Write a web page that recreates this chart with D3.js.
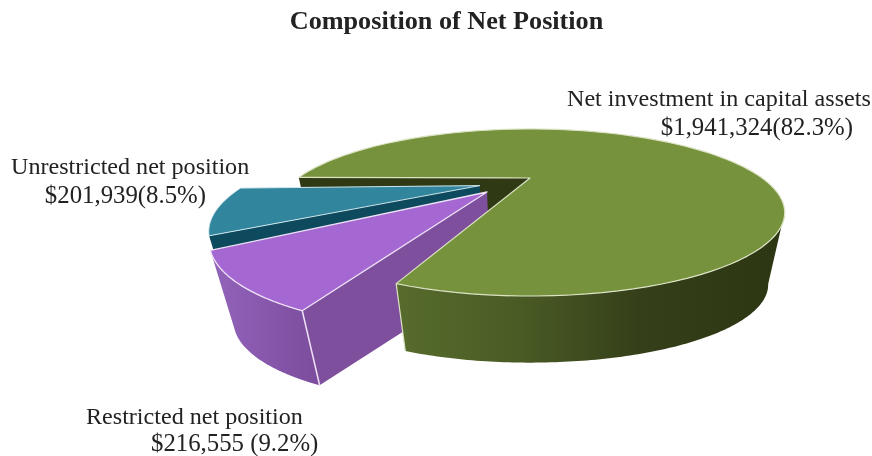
<!DOCTYPE html>
<html>
<head>
<meta charset="utf-8">
<script src="https://cdn.jsdelivr.net/npm/d3@7/dist/d3.min.js"></script>
<style>
html,body{margin:0;padding:0;background:#fff;overflow:hidden}
svg{display:block;filter:blur(0.4px)}
text{font-family:"Liberation Serif","Times New Roman",serif;fill:#222}
</style>
</head>
<body>
<svg id="c" width="872" height="456"></svg>
<script>
// Data
const categories = ["Net investment in capital assets","Restricted net position","Unrestricted net position"];
const values = [1941324,216555,201939];
const percents = ["82.3%","9.2%","8.5%"];
const titleText = "Composition of Net Position";

// Styling / layout (not data)
const topColors = ["#76923c","#a568d2","#31859c"];
const innerColors = ["#2f3a15","#7d4f9c","#0e4a5e"];
const edgeColors = ["#dbe3c4","#efe2f7","#cfe6ee"];
const explode = [[0,0],[-0.171,0.1865],[-0.207,0.105]];
const rimRadius = [1,0.96,0.97];
const depths = [0.934,0.925,0.975];
const deg = Math.PI/180;
const svg = d3.select("#c");

// Perspective of the pie's plane
const cx=530, cy=178, a=232, b=69.3, q=0.413;
const vpX=534, vpY=1305;
const sxS = d3.scaleLinear().domain([0,1]).range([cx,cx+a]);
const syS = d3.scaleLinear().domain([0,1]).range([cy,cy+b]);
function proj(X,Y){const w=1-q*Y;return [sxS(X/w),syS(Y/w)];}
const lowOf=i=>p=>[vpX+(p[0]-vpX)*depths[i],vpY+(p[1]-vpY)*depths[i]];
const line=d3.line();

const pie=d3.pie().sort(null).startAngle(-89.5*deg).endAngle(270.5*deg).padAngle(2.4*deg);
const arcs=pie(values).map((d,i)=>{
  const s=d.startAngle,e=d.endAngle-d.padAngle;
  const [ox,oy]=explode[i],R=rimRadius[i];
  const pt=t=>proj(ox+R*Math.sin(t),oy-R*Math.cos(t));
  const rim=(t0,t1)=>d3.range(0,121).map(k=>pt(t0+(t1-t0)*k/120));
  return {i,s,e,pt,rim,apex:proj(ox,oy),low:lowOf(i)};
});

// gradients
const defs=svg.append("defs");
function grad(id,x1,x2,stops){
  const g=defs.append("linearGradient").attr("id",id).attr("gradientUnits","userSpaceOnUse")
    .attr("x1",x1).attr("x2",x2).attr("y1",0).attr("y2",0);
  stops.forEach(s=>g.append("stop").attr("offset",s[0]).attr("stop-color",s[1]));
}
grad("gWall",400,785,[[0,"#566b2c"],[0.3,"#4a5c25"],[0.62,"#353f19"],[1,"#2c3612"]]);
grad("pWall",212,325,[[0,"#9264ba"],[0.6,"#8454a8"],[1,"#7a4c9a"]]);

function poly(pts,fill,stroke,sw){
  return svg.append("path").attr("d",line(pts)+"Z").attr("fill",fill)
    .attr("stroke",stroke||"none").attr("stroke-width",sw||0).attr("stroke-linejoin","round");
}
function edge(pts,stroke,sw){
  return svg.append("path").attr("d",line(pts)).attr("fill","none").attr("stroke",stroke).attr("stroke-width",sw);
}

const [G,P,T]=arcs;

// green: inside wall of the wedge
const gs=G.pt(G.s);
poly([G.apex,gs,G.low(gs),G.low(G.apex)],innerColors[0]);

// teal: walls, top
const te=T.pt(T.s);
poly([T.apex,te,T.low(te),T.low(T.apex)],innerColors[2]);
poly([T.apex,...T.rim(T.s,T.e)],topColors[2],edgeColors[2],1);

// purple: walls, top
const ps=P.pt(P.s);
const pRim=P.rim(P.s,P.e);
poly([...pRim,...pRim.map(P.low).reverse()],"url(#pWall)");
poly([P.apex,ps,P.low(ps),P.low(P.apex)],innerColors[1]);
poly([P.apex,...pRim],topColors[1],edgeColors[1],1.3);
edge([ps,P.low(ps)],edgeColors[1],1.5);

// green: outer wall, top
const gRim=G.rim(114*deg,G.e);
poly([...gRim,...gRim.map(G.low).reverse()],"url(#gWall)");
const ge=G.pt(G.e);
edge([ge,G.low(ge)],edgeColors[0],1.2);
poly([G.apex,...G.rim(G.s,G.e)],topColors[0],edgeColors[0],1.2);

// text
svg.append("text").attr("x",446.5).attr("y",29).attr("text-anchor","middle")
  .attr("font-size",26.2).attr("font-weight","bold").text(titleText);
const money=d3.format("$,");
function label(x1,y1,x2,y2,i,sep,anchor2){
  svg.append("text").attr("x",x1).attr("y",y1).attr("font-size",24.1).text(categories[i]);
  svg.append("text").attr("x",x2).attr("y",y2).attr("font-size",24.8)
    .attr("text-anchor",anchor2).text(money(values[i])+sep+"("+percents[i]+")");
}
label(567,106,853,135,0,"","end");
label(86,424,151,451,1," ","start");
label(11,174,206,203,2,"","end");
</script>
</body>
</html>
